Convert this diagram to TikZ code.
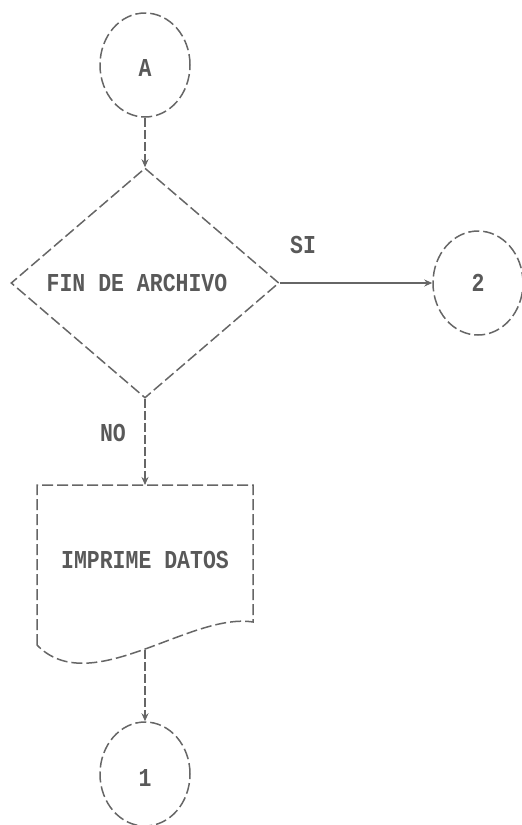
\documentclass[tikz,border=0pt]{standalone}
\usepackage{fontspec}
\setmonofont{Liberation Mono}
\usetikzlibrary{shapes.geometric,arrows.meta}
\definecolor{ink}{gray}{0.40}
\definecolor{textink}{gray}{0.35}
\tikzset{
  lbl/.style={font=\ttfamily\bfseries\fontsize{21.5}{21.5}\selectfont, text=textink, yscale=1.2, inner sep=0pt},
  outline/.style={draw=ink, line width=1.5pt, dash pattern=on 11pt off 4pt},
  conn/.style={ellipse, outline, minimum width=90pt, minimum height=104pt, inner sep=0pt},
  flow/.style={draw=ink, line width=1.5pt, dash pattern=on 9pt off 3pt, -{Stealth[length=8pt,width=7pt]}},
  solidflow/.style={draw=ink, line width=1.3pt, -{Stealth[length=8pt,width=7pt]}}
}
\begin{document}
\begin{tikzpicture}[x=1pt,y=-1pt]
\useasboundingbox (0,0) rectangle (522,825);
% connectors (nodes)
\node[conn] (A) at (145,65) {};
\node[lbl] (At) at (145,68) {A};
\node[diamond, outline, minimum width=268pt, minimum height=230pt, aspect=1.17, inner sep=0pt] (dia) at (145,283) {};
\node[lbl] (diat) at (137,283) {FIN DE ARCHIVO};
\node[conn] (C2) at (478,283) {};
\node[lbl] (C2t) at (478,283) {2};
\node[lbl] (si) at (303,245) {SI};
\node[lbl] (no) at (113,433) {NO};
% document shape
\coordinate (docT) at (145,485);
\coordinate (docB) at (145,650);
\draw[outline] (37,645) -- (37,485) -- (253,485) -- (253,622)
  .. controls (190,612) and (90,700) .. (37,645);
\node[lbl] (doct) at (145,560) {IMPRIME DATOS};
\node[conn] (C1) at (145,774) {};
\node[lbl] (C1t) at (145,778) {1};
% flow lines
\draw[flow] (A.south) -- (dia.north);
\draw[solidflow] (dia.east) -- (C2.west);
\draw[flow] (dia.south) -- (docT);
\draw[flow] (docB) -- (C1.north);
\end{tikzpicture}
\end{document}
